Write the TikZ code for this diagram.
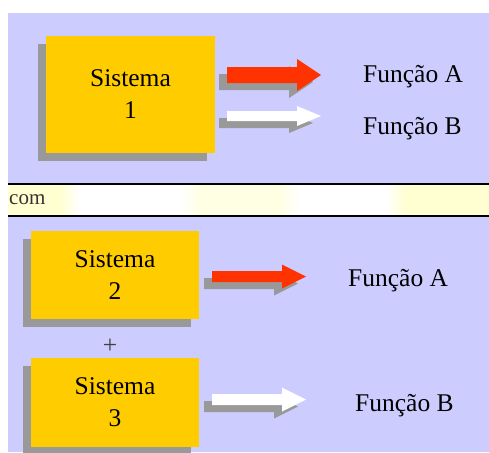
\documentclass[tikz,border=0pt]{standalone}
\usepackage{fontspec}
\setmainfont{Liberation Serif}
\usetikzlibrary{shadows}

\definecolor{lavender}{HTML}{CCCCFF}
\definecolor{sysyellow}{HTML}{FFCC00}
\definecolor{arrowred}{HTML}{FF3300}
\definecolor{shadowgray}{HTML}{999999}
\definecolor{paleyellow}{HTML}{FFFFD2}

% faint yellow patches behind the "com" strip
\pgfdeclarehorizontalshading{comband}{100bp}{color(0bp)=(paleyellow); color(30.4bp)=(paleyellow);
  color(32.5bp)=(white); color(42.9bp)=(white); color(45bp)=(paleyellow!60!white);
  color(53.3bp)=(paleyellow!60!white); color(55.4bp)=(white); color(64.2bp)=(white);
  color(66.3bp)=(paleyellow); color(100bp)=(paleyellow)}

\tikzset{
  sistema/.style={fill=sysyellow, align=center, inner sep=0pt,
    font=\fontsize{25.5}{32}\selectfont,
    drop shadow={shadow xshift=-8pt, shadow yshift=-8pt, fill=shadowgray, opacity=1}},
  funcao/.style={anchor=base west, inner sep=0pt, font=\fontsize{25.5}{32}\selectfont},
  % block arrow with its grey shadow: colour, shaft half width, head half width
  pics/fatarrow/.style n args={3}{code={
    \fill[shadowgray, shift={(-8,7)}] (0,-#2) -- (70,-#2) -- (70,-#3) -- (94,0)
      -- (70,#3) -- (70,#2) -- (0,#2) -- cycle;
    \fill[#1] (0,-#2) -- (70,-#2) -- (70,-#3) -- (94,0)
      -- (70,#3) -- (70,#2) -- (0,#2) -- cycle;
  }}
}

\begin{document}
\begin{tikzpicture}[x=1pt, y=-1pt]
\useasboundingbox (0,0) rectangle (489,452);

% panels
\fill[lavender] (8,13) rectangle (489,184);
\shade[shading=comband] (8,184) rectangle (489,216);
\fill[lavender] (8,216) rectangle (489,452);
\draw[line width=1.5pt] (8,184) -- (489,184) (8,216) -- (489,216);
\node[anchor=base west, inner sep=0pt, text=black!80, font=\fontsize{21}{24}\selectfont] (com) at (9,204.5) {com};

% one system, two functions
\node[sistema, minimum width=169pt, minimum height=117pt] (sis1) at (130.5,94.5) {Sistema\\1};
\pic at (227,75) {fatarrow={arrowred}{8}{16}};
\pic at (227,116) {fatarrow={white}{5}{10}};
\node[funcao] (fa1) at (363,82) {Função A};
\node[funcao] (fb1) at (363,134) {Função B};

% two systems, one function each
\node[sistema, minimum width=168pt, minimum height=88pt] (sis2) at (115,275) {Sistema\\2};
\node[inner sep=0pt, text=black!75, font=\fontsize{25.5}{32}\selectfont] (plus) at (110,346) {+};
\node[sistema, minimum width=168pt, minimum height=89pt] (sis3) at (115,402.5) {Sistema\\3};
\pic at (212,276.5) {fatarrow={arrowred}{5.5}{12}};
\pic at (212,399.5) {fatarrow={white}{5.5}{12}};
\node[funcao] (fa2) at (348,286) {Função A};
\node[funcao] (fb2) at (355,411) {Função B};
\end{tikzpicture}
\end{document}
